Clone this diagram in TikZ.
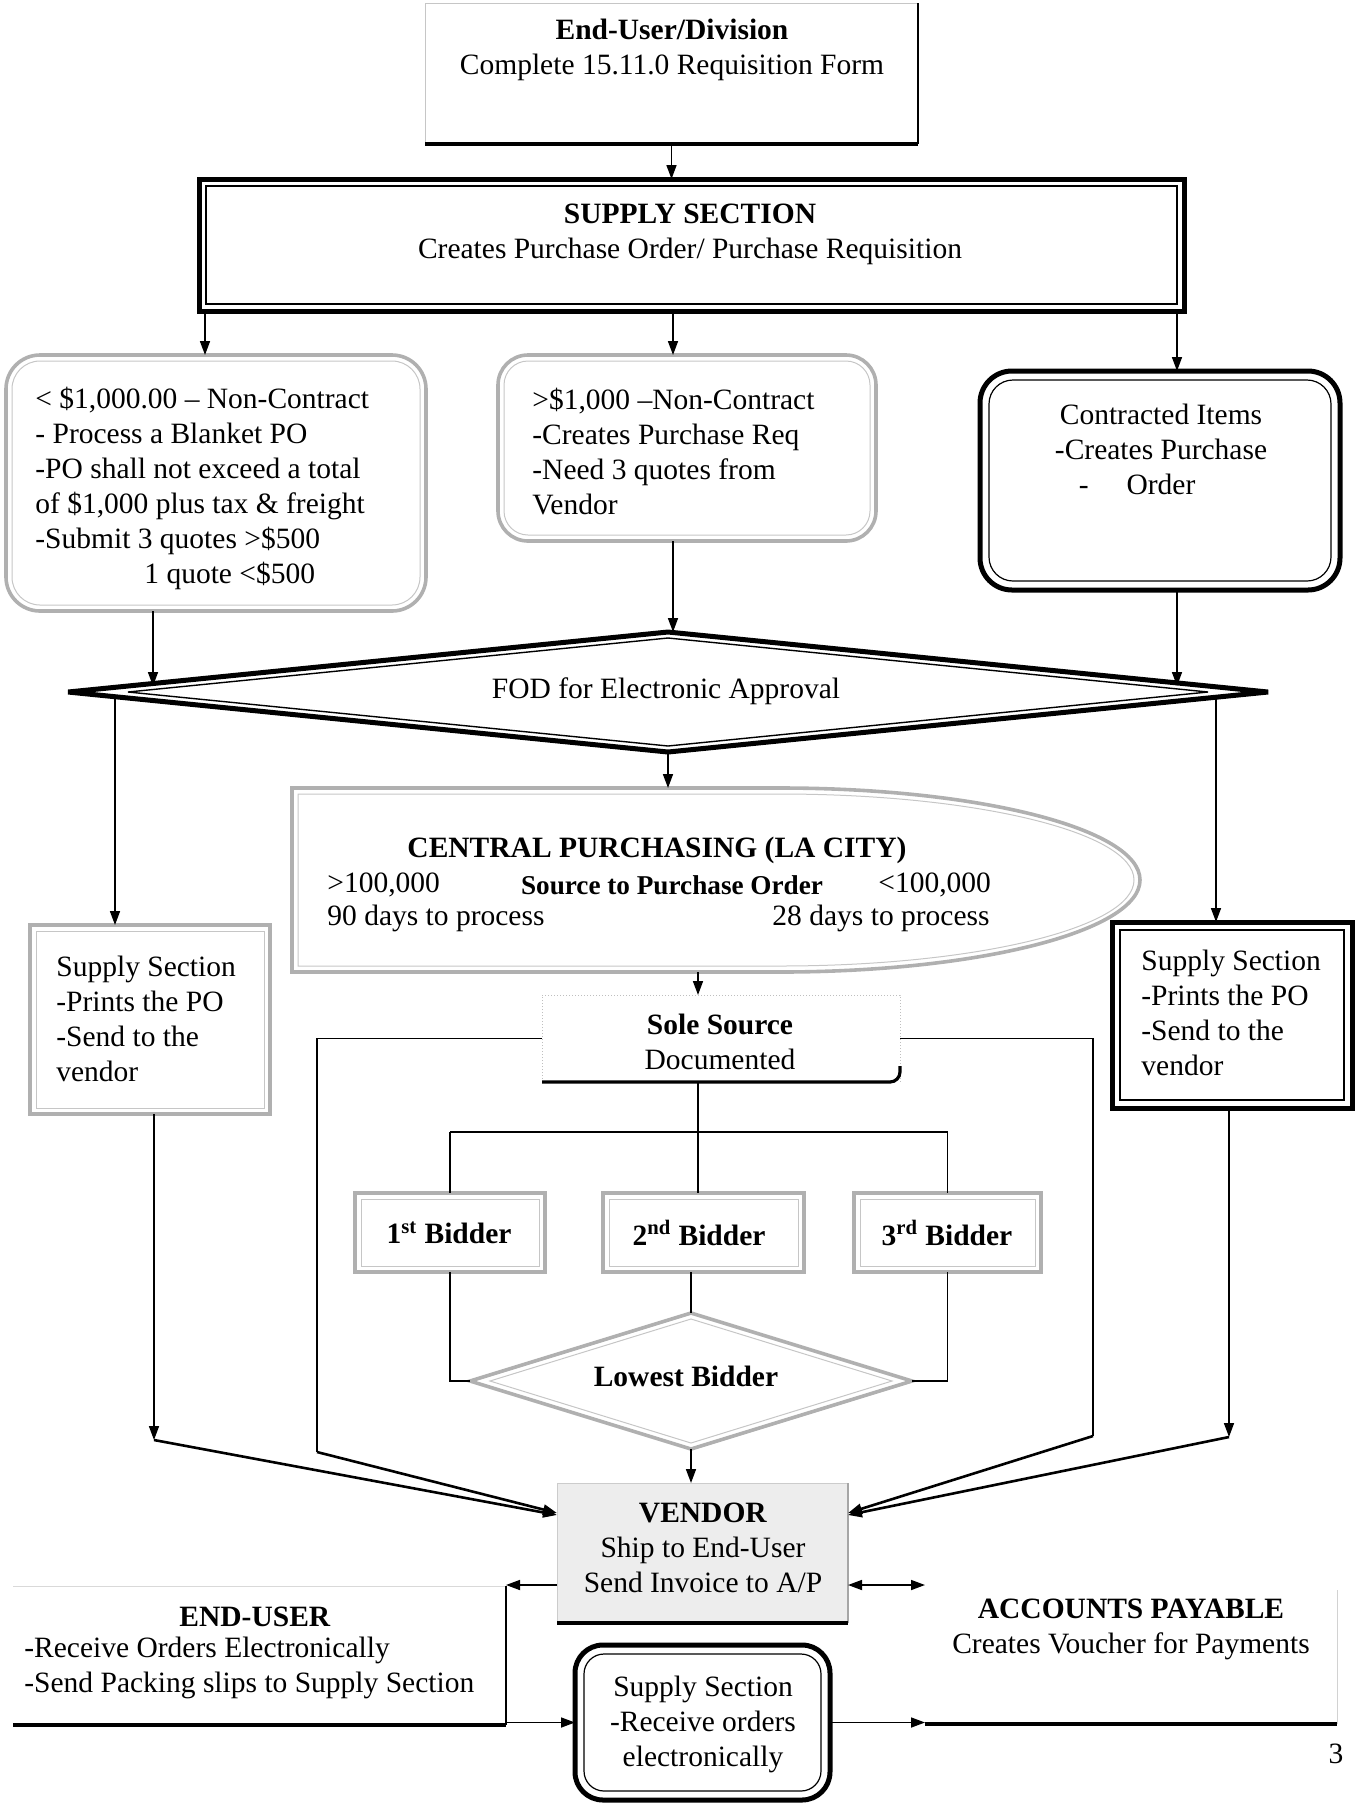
\documentclass[tikz,border=0pt]{standalone}
\usepackage{fontspec}
\setmainfont{Liberation Serif}
\usetikzlibrary{arrows.meta,shapes.geometric,calc}
\newcommand\myfs{\fontsize{14.75pt}{17.5pt}\selectfont}
\newcommand\mysmall{\fontsize{13.6pt}{16pt}\selectfont}
\begin{document}
\begin{tikzpicture}[x=0.5pt,y=-0.5pt,
  txt/.style={font=\myfs, inner sep=0pt, align=center},
  ltxt/.style={font=\myfs, inner sep=0pt, align=left, anchor=west},
  bx/.style={inner sep=0pt, outer sep=0pt},
  blk/.style={draw=black, line width=2.5pt},
  thinin/.style={draw=black, line width=0.6pt},
  graybd/.style={draw=gray!62, line width=1.8pt},
  grayin/.style={draw=gray!45, line width=0.5pt},
  conn/.style={draw=black, line width=0.8pt},
  arr/.style={conn, -{Triangle[length=7pt,width=5pt]}},
  arrd/.style={conn, {Triangle[length=7pt,width=5pt]}-{Triangle[length=7pt,width=5pt]}},
  diag/.style={arr, line width=1.3pt},
]
\useasboundingbox (0,0) rectangle (1355,1806);

% top box
\node[bx, minimum width=246.5pt, minimum height=70.5pt] (top) at (671.5,73.5) {};
\draw[gray!45, line width=0.5pt] (top.south west) -- (top.north west) -- (top.north east);
\draw[line width=0.8pt] (top.north east) -- (top.south east);
\draw[line width=2pt] (top.south west) -- (top.south east);
\node[txt] (toptxt) at (672,50) {\textbf{End-User/Division}\\Complete 15.11.0 Requisition Form};

% supply section
\node[bx, blk, minimum width=492.5pt, minimum height=66pt] (supply) at (691.5,245) {};
\draw[thinin] ([shift={(7,7)}]supply.north west) rectangle ([shift={(-7,-7)}]supply.south east);
\node[txt] (supplytxt) at (690,234) {\textbf{SUPPLY SECTION}\\Creates Purchase Order/ Purchase Requisition};

% left box
\node[bx, graybd, rounded corners=17pt, minimum width=210pt, minimum height=128pt] (lt) at (216,483) {};
\draw[grayin, rounded corners=14pt] ([shift={(6,6)}]lt.north west) rectangle ([shift={(-6,-6)}]lt.south east);
\node[ltxt] (lttxt) at (35,488) {< \$1,000.00 – Non-Contract\\- Process a Blanket PO\\-PO shall not exceed a total\\of \$1,000 plus tax \& freight\\-Submit 3 quotes >\$500\\\hspace*{54.5pt}1 quote <\$500};

% middle box
\node[bx, graybd, rounded corners=15pt, minimum width=189pt, minimum height=93pt] (md) at (687,448) {};
\draw[grayin, rounded corners=12pt] ([shift={(6,6)}]md.north west) rectangle ([shift={(-6,-6)}]md.south east);
\node[ltxt] (mdtxt) at (532,451.5) {>\$1,000 –Non-Contract\\-Creates Purchase Req\\-Need 3 quotes from\\Vendor};

% contracted items
\node[bx, blk, rounded corners=16pt, minimum width=180pt, minimum height=109.5pt] (ct) at (1160,480.5) {};
\draw[thinin, rounded corners=12pt] ([shift={(9,9)}]ct.north west) rectangle ([shift={(-9,-9)}]ct.south east);
\node[txt] (cttxt) at (1161,449.5) {Contracted Items\\-Creates Purchase\\\llap{-\hspace{19pt}}Order};

% FOD diamond
\node[bx, shape=diamond, aspect=10, draw, line width=2.5pt, minimum width=600pt, minimum height=60pt] (fod) at (668,692) {};
\node[bx, shape=diamond, aspect=10, draw, line width=0.7pt, minimum width=540pt, minimum height=54pt] (fodin) at (668,692) {};
\node[txt] (fodtxt) at (666,691) {FOD for Electronic Approval};

% central purchasing
\node[bx, minimum width=424pt, minimum height=92pt] (cp) at (716,880) {};
\draw[graybd] (cp.north west) -- (780,788) .. controls (979,788) and (1140,829) .. (cp.east) .. controls (1140,931) and (979,972) .. (780,972) -- (cp.south west) -- cycle;
\draw[grayin] (298,794) -- (780,794) .. controls (975,794) and (1134,832) .. (1134,880) .. controls (1134,928) and (975,966) .. (780,966) -- (298,966) -- cycle;
\node[txt] (cptitle) at (657,850) {\textbf{CENTRAL PURCHASING (LA CITY)}};
\node[ltxt] (cpa) at (327,885) {>100,000};
\node[txt, font=\mysmall\bfseries] (cpb) at (672,885) {Source to Purchase Order};
\node[ltxt] (cpc) at (878,885) {<100,000};
\node[ltxt] (cpd) at (327,918) {90 days to process};
\node[txt, anchor=east] (cpe) at (990,918) {28 days to process};

% supply section left (prints)
\node[bx, graybd, minimum width=120pt, minimum height=94.5pt] (sl) at (150,1019.5) {};
\draw[grayin] ([shift={(6,6)}]sl.north west) rectangle ([shift={(-6,-6)}]sl.south east);
\node[ltxt] (sltxt) at (56,1018.5) {Supply Section\\-Prints the PO\\-Send to the\\vendor};

% supply section right (prints)
\node[bx, blk, minimum width=120pt, minimum height=93pt] (sr) at (1232,1015) {};
\draw[thinin] ([shift={(8,8)}]sr.north west) rectangle ([shift={(-8,-8)}]sr.south east);
\node[ltxt] (srtxt) at (1141,1013) {Supply Section\\-Prints the PO\\-Send to the\\vendor};

% sole source
\node[bx, minimum width=179pt, minimum height=43.5pt] (ss) at (721,1038.5) {};
\draw[gray!50, line width=0.5pt, densely dotted] (ss.south west) -- (ss.north west) -- (ss.north east) -- (ss.south east);
\draw[line width=1.6pt, rounded corners=5pt] (ss.south west) -- (ss.south east) -- ([yshift=8pt]ss.south east);
\node[txt] (sstxt) at (720,1042) {\textbf{Sole Source}\\Documented};

% bidders
\node[bx, graybd, minimum width=95pt, minimum height=39.5pt] (b1) at (450,1232.5) {};
\draw[grayin] ([shift={(6,6)}]b1.north west) rectangle ([shift={(-6,-6)}]b1.south east);
\node[txt] (b1txt) at (449,1233) {\textbf{1\textsuperscript{st} Bidder}};
\node[bx, graybd, minimum width=100.5pt, minimum height=39.5pt] (b2) at (703.5,1232.5) {};
\draw[grayin] ([shift={(6,6)}]b2.north west) rectangle ([shift={(-6,-6)}]b2.south east);
\node[txt] (b2txt) at (699,1233) {\textbf{2\textsuperscript{nd} Bidder}};
\node[bx, graybd, minimum width=93.5pt, minimum height=39.5pt] (b3) at (947.5,1232.5) {};
\draw[grayin] ([shift={(6,6)}]b3.north west) rectangle ([shift={(-6,-6)}]b3.south east);
\node[txt] (b3txt) at (947,1233) {\textbf{3\textsuperscript{rd} Bidder}};

% lowest bidder
\node[bx, shape=diamond, aspect=3, draw=gray!62, line width=1.8pt, minimum width=221pt, minimum height=68pt] (lb) at (691,1381) {};
\node[bx, shape=diamond, aspect=3, draw=gray!45, line width=0.5pt, minimum width=201pt, minimum height=62pt] (lbin) at (691,1381) {};
\node[txt] (lbtxt) at (686,1376) {\textbf{Lowest Bidder}};

% vendor
\node[bx, fill=gray!14, minimum width=145.5pt, minimum height=70pt] (vd) at (702.5,1553) {};
\draw[gray!40, line width=0.5pt] (vd.south west) -- (vd.north west) -- (vd.north east);
\draw[gray!70, line width=1pt] (vd.north east) -- (vd.south east);
\draw[line width=1.6pt] (vd.south west) -- (vd.south east);
\node[txt] (vdtxt) at (703,1548) {\textbf{VENDOR}\\Ship to End-User\\Send Invoice to A/P};

% end-user
\node[bx, minimum width=246.5pt, minimum height=69.5pt] (eu) at (259.5,1655.5) {};
\draw[gray!30, line width=0.4pt] (eu.north west) -- (eu.north east);
\draw[line width=0.6pt] (eu.north east) -- (eu.south east);
\draw[line width=1.6pt] (eu.south west) -- (eu.south east);
\node[txt] (eutitle) at (255,1617) {\textbf{END-USER}};
\node[ltxt] (eutxt) at (24,1667.5) {-Receive Orders Electronically\\-Send Packing slips to Supply Section};

% supply section bottom
\node[bx, blk, rounded corners=14pt, minimum width=127.5pt, minimum height=77.5pt] (sb) at (702.5,1722.5) {};
\draw[thinin, rounded corners=10pt] ([shift={(9,9)}]sb.north west) rectangle ([shift={(-9,-9)}]sb.south east);
\node[txt] (sbtxt) at (703,1724) {Supply Section\\-Receive orders\\electronically};

% accounts payable
\node[bx, minimum width=206pt, minimum height=67pt] (ap) at (1131,1657) {};
\draw[gray!35, line width=0.4pt] (ap.north east) -- (ap.south east);
\draw[line width=1.6pt] (ap.south west) -- (ap.south east);
\node[txt] (aptxt) at (1131,1629.5) {\textbf{ACCOUNTS PAYABLE}\\Creates Voucher for Payments};

\node[txt] (pg) at (1336,1754) {3};

% helper coordinates
\coordinate (cA) at (205,0);
\coordinate (cB) at (673,0);
\coordinate (cC) at (1177,0);
\coordinate (cD) at (153,686);
\coordinate (cE) at (1177,686);
\coordinate (cF) at (115,696);
\coordinate (cG) at (1216,697);
\coordinate (cH) at (698,0);
\coordinate (cI) at (0,1132);
\coordinate (cJ) at (317,1452);
\coordinate (cK) at (1093,1436);
\coordinate (cL) at (154,1440);
\coordinate (cM) at (1229,1437);
\coordinate (cN) at (506,1585);

% connectors
\draw[arr] (top.south) -- (top.south |- supply.north);
\draw[arr] (supply.south -| cA) -- (lt.north -| cA);
\draw[arr] (supply.south -| cB) -- (md.north -| cB);
\draw[arr] (supply.south -| cC) -- (ct.north -| cC);
\draw[arr] (lt.south -| cD) -- (cD);
\draw[arr] (md.south -| cB) -- (fod.north -| cB);
\draw[arr] (ct.south -| cC) -- (cE);
\draw[arr] (cF) -- (sl.north -| cF);
\draw[arr] (cG) -- (sr.north -| cG);
\draw[arr] (fod.south) -- (fod.south |- cp.north);
\draw[arr] (cp.south -| cH) -- (ss.north -| cH);
\draw[conn] (ss.south -| cH) -- (b2.north -| cH);
\draw[conn] (b1.north |- cI) -- (b3.north |- cI);
\draw[conn] (b1.north |- cI) -- (b1.north);
\draw[conn] (b3.north |- cI) -- (b3.north);
\draw[conn] (b1.south) |- (lb.west);
\draw[conn] (b3.south) |- (lb.east);
\draw[conn] (lb.north |- b2.south) -- (lb.north);
\draw[arr] (lb.south) -- (lb.south |- vd.north);
\draw[conn] (ss.west) -| (cJ);
\draw[diag] (cJ) -- ([yshift=20pt]vd.west);
\draw[conn] (ss.east) -| (cK);
\draw[diag] (cK) -- ([yshift=20pt]vd.east);
\draw[arr] (sl.south -| cL) -- (cL);
\draw[diag] (cL) -- ([yshift=19pt]vd.west);
\draw[arr] (sr.south -| cM) -- (cM);
\draw[diag] (cM) -- ([yshift=19pt]vd.east);
\draw[arr] ([yshift=-16pt]vd.west) -- (cN);
\draw[arr] (sb.west -| eu.east) -- (sb.west);
\draw[arr] (sb.east) -- (sb.east -| ap.west);
\draw[arrd] ([yshift=-16pt]vd.east) -- (ap.west |- cN);
\end{tikzpicture}
\end{document}
